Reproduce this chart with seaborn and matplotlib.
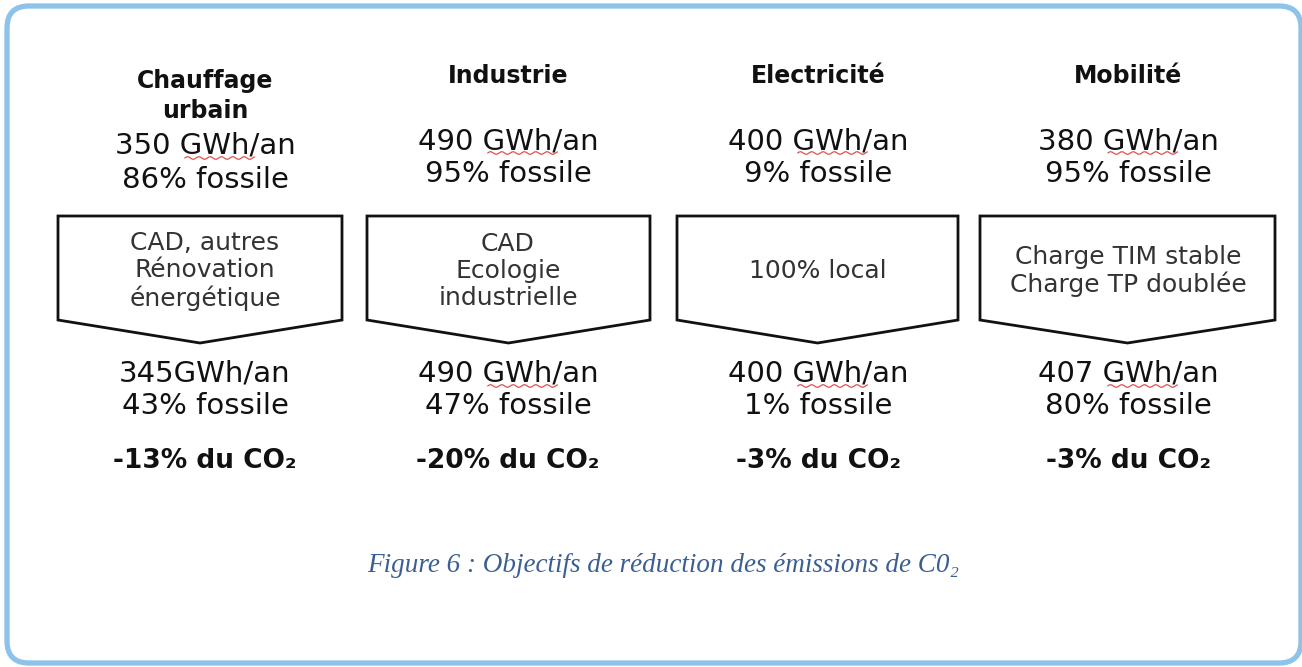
import matplotlib
matplotlib.use("Agg")
import matplotlib.pyplot as plt
import seaborn as sns
import numpy as np
from matplotlib.patches import FancyBboxPatch, Polygon

# ---- data ----
categories = ["Chauffage\nurbain", "Industrie", "Electricité", "Mobilité"]
energy_before = ["350 GWh/an", "490 GWh/an", "400 GWh/an", "380 GWh/an"]
fossil_before = ["86% fossile", "95% fossile", "9% fossile", "95% fossile"]
actions = ["CAD, autres\nRénovation\nénergétique", "CAD\nEcologie\nindustrielle",
           "100% local", "Charge TIM stable\nCharge TP doublée"]
energy_after = ["345GWh/an", "490 GWh/an", "400 GWh/an", "407 GWh/an"]
fossil_after = ["43% fossile", "47% fossile", "1% fossile", "80% fossile"]
co2_change = ["-13% du CO₂", "-20% du CO₂", "-3% du CO₂", "-3% du CO₂"]
caption = "Figure 6 : Objectifs de réduction des émissions de C0₂"

sns.set_theme(style="white")
plt.rcParams['font.family'] = ['DejaVu Sans']

W, H = 1302, 667
fig = plt.figure(figsize=(W / 100, H / 100), dpi=100)
ax = fig.add_axes([0, 0, 1, 1])
ax.set_xlim(0, W)
ax.set_ylim(H, 0)
ax.axis("off")

# frame
frame = FancyBboxPatch((7, 6), 1294, 657, boxstyle="round,pad=0,rounding_size=22",
                       fill=False, ec="#8DC3EA", lw=3.8)
ax.add_patch(frame)

text_centers = [205, 508, 818, 1128]
box_left = [58, 367, 677, 980]
box_right = [342, 650, 958, 1275]
box_top, box_side, box_tip = 216, 320, 343
txt_kw = dict(ha="center", va="center", color="#111111")

squiggle_texts = []
for i, cat in enumerate(categories):
    cx = text_centers[i]
    two_line = "\n" in cat
    if two_line:
        ax.text(cx, 96, cat, fontsize=17, fontweight="bold", linespacing=1.3, **txt_kw)
        y1, y2 = 146, 180
    else:
        ax.text(cx, 76, cat, fontsize=17, fontweight="bold", **txt_kw)
        y1, y2 = 141, 174
    t = ax.text(cx, y1, energy_before[i], fontsize=21, **txt_kw)
    squiggle_texts.append(t)
    ax.text(cx, y2, fossil_before[i], fontsize=21, **txt_kw)

    l, r = box_left[i], box_right[i]
    poly = Polygon([(l, box_top), (r, box_top), (r, box_side), ((l + r) / 2, box_tip),
                    (l, box_side)], closed=True, fill=True, fc="white", ec="#111111", lw=2.0)
    ax.add_patch(poly)
    ax.text(cx, 271, actions[i], fontsize=18, linespacing=1.15, color="#333333",
            ha="center", va="center")

    t = ax.text(cx, 374, energy_after[i], fontsize=21, **txt_kw)
    if " GWh" in energy_after[i]:
        squiggle_texts.append(t)
    ax.text(cx, 406, fossil_after[i], fontsize=21, **txt_kw)
    ax.text(cx, 461, co2_change[i], fontsize=19, fontweight="bold", **txt_kw)

ax.text(663, 566, caption, fontsize=19.5, style="italic", family="Liberation Serif",
        color="#3C5F92", ha="center", va="center")

# red spell-check squiggles under "GWh"
fig.canvas.draw()
renderer = fig.canvas.get_renderer()
inv = ax.transData.inverted()
for t in squiggle_texts:
    s = t.get_text()
    pre = s.split("GWh")[0]
    bb = t.get_window_extent(renderer)
    tmp = ax.text(0, 0, pre.replace(" ", "_"), fontsize=t.get_fontsize())
    tmp2 = ax.text(0, 0, "GWh", fontsize=t.get_fontsize())
    wpre = tmp.get_window_extent(renderer).width
    wg = tmp2.get_window_extent(renderer).width
    tmp.remove(); tmp2.remove()
    x0 = bb.x0 + wpre
    ybase = bb.y0 + 2
    xs = np.linspace(x0, x0 + wg, 50)
    ys = ybase + 1.3 * np.sin((xs - x0) / 1.8)
    pts = inv.transform(np.column_stack([xs, ys]))
    ax.plot(pts[:, 0], pts[:, 1], color="#E05050", lw=0.9)

fig.savefig("out.png", dpi=100, facecolor="white")
